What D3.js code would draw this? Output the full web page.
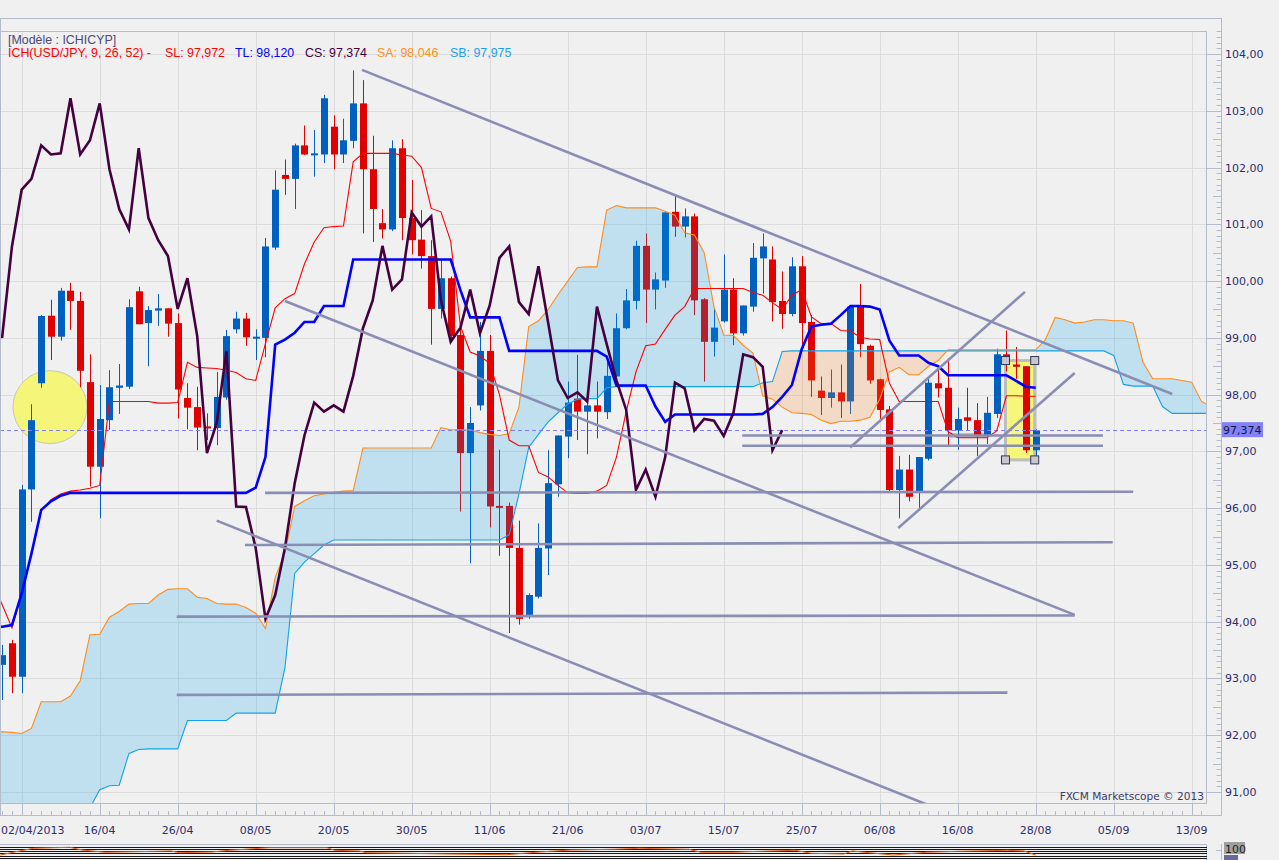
<!DOCTYPE html>
<html><head><meta charset="utf-8">
<script src="https://cdn.jsdelivr.net/npm/d3@7"></script>
<style>
html,body{margin:0;padding:0;background:#f0f0f0;overflow:hidden;}
svg{display:block;}
</style></head><body>
<svg id="chart" width="1279" height="860"></svg>
<script>
// ---------------- DATA ----------------
const tickIdx = [2,10,18,26,34,42,50,58,66,74,82,90,98,106,114,122];
const tickLabels = ["02/04/2013","16/04","26/04","08/05","20/05","30/05","11/06","21/06","03/07","15/07","25/07","06/08","16/08","28/08","05/09","13/09"];
const priceTicks = [91,92,93,94,95,96,97,98,99,100,101,102,103,104];
const priceLabels = ["91,00","92,00","93,00","94,00","95,00","96,00","97,00","98,00","99,00","100,00","101,00","102,00","103,00","104,00"];

const openP = [93.24,93.62,93.03,96.33,98.20,99.39,99.02,99.83,99.65,98.22,
 96.73,97.55,98.12,98.14,99.82,99.26,99.48,99.52,99.26,97.94,
 97.78,97.44,97.41,97.95,99.15,99.34,99.00,99.00,100.59,101.87,
 101.80,102.39,102.23,102.23,102.72,102.23,102.47,103.13,101.97,101.02,
 100.91,102.34,101.11,100.73,100.44,99.51,100.05,99.05,96.97,97.81,
 98.77,96.04,96.04,95.30,94.12,94.44,95.29,96.42,97.26,97.93,
 97.70,97.81,97.69,98.32,99.17,99.65,100.62,99.85,100.01,101.22,
 100.96,101.14,99.68,98.93,99.29,99.85,99.08,99.55,100.40,100.38,
 99.65,99.42,100.26,99.28,98.07,97.94,98.04,97.88,99.55,98.86,
 98.27,97.74,96.32,96.68,96.28,96.87,98.20,98.12,97.37,97.60,
 97.55,97.27,97.66,98.71,98.53,98.50,97.02];
const highP = [93.59,93.68,96.41,97.83,99.40,99.67,99.88,99.97,99.81,98.71,
 98.17,98.43,98.54,99.68,99.90,99.56,99.77,99.52,99.43,98.20,
 98.14,97.67,98.40,99.14,99.46,99.44,99.15,100.76,101.95,102.14,
 102.42,102.74,102.66,103.28,102.92,102.86,103.71,103.54,102.56,101.27,
 102.48,102.50,101.78,101.25,100.72,100.38,100.08,99.22,97.78,99.28,
 99.05,97.03,96.10,95.78,94.50,95.73,97.02,97.28,98.23,98.70,
 97.85,98.23,98.58,99.43,99.86,100.71,100.84,100.15,101.21,101.52,
 101.28,101.19,99.70,99.52,100.47,100.05,99.57,100.67,100.84,100.61,
 100.17,100.42,100.44,99.40,98.32,98.44,98.53,99.56,99.95,98.88,
 98.28,97.80,96.92,96.94,96.90,98.30,98.44,98.64,97.77,98.12,
 97.85,97.96,98.81,99.13,98.84,98.50,97.39];
const lowP = [92.62,92.74,92.74,95.76,98.12,98.61,98.95,99.14,98.13,96.38,
 95.82,97.38,97.66,98.10,99.24,98.50,99.21,99.02,97.58,97.39,
 97.02,97.20,97.11,97.91,99.08,98.86,98.61,98.66,100.55,101.52,
 101.27,102.22,101.84,102.08,101.97,102.08,102.34,100.84,100.69,100.75,
 100.88,100.72,100.47,100.22,98.88,99.34,98.97,95.94,95.03,97.72,
 95.66,95.16,93.80,93.95,94.05,94.41,94.82,96.20,96.88,97.20,
 96.95,97.23,97.57,98.30,99.15,99.50,99.26,99.50,99.88,100.78,
 100.77,99.40,98.23,98.67,99.27,98.87,99.04,99.46,99.78,99.29,
 99.16,99.38,98.88,97.96,97.64,97.77,97.59,97.66,98.66,98.19,
 97.53,96.30,95.82,96.12,95.95,96.84,97.95,97.09,97.03,97.36,
 96.92,97.13,97.59,98.41,98.28,96.97,96.83];
const closeP = [93.41,93.03,96.33,97.55,99.385,99.02,99.83,99.65,98.42,96.73,
 97.57,98.13,98.16,99.54,99.24,99.49,99.52,99.25,98.09,97.77,
 97.42,97.41,97.96,99.03,99.34,99.01,99.02,100.61,101.61,101.80,
 102.39,102.23,102.25,103.22,102.23,102.48,103.13,101.97,101.27,100.91,
 102.34,101.11,100.72,100.44,99.51,100.05,99.03,96.97,97.50,98.77,
 96.03,96.02,95.30,94.05,94.47,95.30,96.44,97.28,97.86,97.70,
 97.81,97.70,98.33,99.17,99.66,100.62,99.85,100.03,101.21,100.96,
 101.14,99.66,98.93,99.18,99.85,99.08,99.57,100.41,100.61,99.63,
 99.42,100.26,99.26,98.25,97.94,98.04,97.88,99.55,98.89,98.25,
 97.73,96.32,96.68,96.20,96.90,98.21,98.11,97.37,97.57,97.54,
 97.27,97.68,98.71,98.66,98.49,97.02,97.374];

// Ichimoku lines (first value at bar index -1)
const lineStart = -1;
const tenkan = [94.7,94.3,93.89,94.5,95.2,95.95,96.15,96.25,96.3,96.32,
 96.35,96.4,97.88,97.88,97.88,97.88,97.88,97.85,97.85,97.86,
 98.57,98.48,98.47,98.46,98.43,98.39,98.28,98.25,98.9,99.53,
 99.69,99.78,100.3,100.69,100.94,100.96,100.97,102.1,102.25,102.25,
 102.25,102.25,102.22,102.2,102.0,101.28,101.22,100.7,99.2,98.75,
 98.68,98.55,98.0,97.2,97.1,97.1,96.63,96.55,96.4,96.27,
 96.26,96.26,96.3,96.4,96.9,97.7,98.4,98.86,98.89,99.15,
 99.4,99.55,99.87,99.87,99.87,99.87,99.87,99.87,99.8,99.75,
 99.62,99.5,99.75,99.85,99.37,99.25,99.25,99.13,99.12,99.01,
 98.98,98.97,98.2,97.88,97.88,97.88,97.88,97.88,97.35,97.24,
 97.24,97.24,97.24,97.36,97.98,97.98,97.97,97.97];
const kijun = [93.91,93.91,93.94,94.5,95.2,95.97,96.12,96.22,96.27,96.27,
 96.27,96.27,96.27,96.27,96.27,96.27,96.27,96.27,96.27,96.27,
 96.27,96.27,96.27,96.27,96.27,96.27,96.27,96.36,96.9,98.88,
 98.97,99.09,99.28,99.28,99.56,99.56,99.56,100.38,100.38,100.38,
 100.38,100.38,100.38,100.38,100.38,100.38,100.38,100.38,99.84,99.36,
 99.36,99.36,99.36,98.77,98.77,98.77,98.77,98.77,98.77,98.77,
 98.77,98.77,98.77,98.67,98.16,98.16,98.16,98.16,97.79,97.52,
 97.65,97.65,97.65,97.65,97.65,97.65,97.65,97.65,97.65,97.66,
 97.78,97.96,98.17,98.8,99.2,99.23,99.25,99.4,99.56,99.56,
 99.55,99.5,98.95,98.69,98.69,98.69,98.56,98.5,98.34,98.34,
 98.34,98.34,98.34,98.34,98.34,98.24,98.14,98.12];
const senkouA = [92.06,92.06,92.05,92.03,92.12,92.59,92.59,92.59,92.69,92.96,
 93.77,93.78,94.08,94.18,94.31,94.32,94.32,94.47,94.57,94.58,
 94.58,94.43,94.41,94.32,94.31,94.31,94.25,94.15,93.88,94.78,
 95.22,96.03,96.13,96.22,96.25,96.28,96.30,96.31,97.06,97.06,
 97.06,97.06,97.06,97.06,97.06,97.06,97.42,97.38,97.38,97.38,
 97.33,97.30,97.28,97.31,97.78,99.2,99.3,99.5,99.76,100.0,
 100.24,100.25,100.25,101.25,101.33,101.29,101.29,101.29,101.29,101.23,
 101.16,100.85,100.81,100.5,99.55,99.05,99.04,98.87,98.73,97.98,
 97.92,97.78,97.68,97.67,97.65,97.55,97.49,97.53,97.53,97.55,
 97.6,97.92,98.4,98.48,98.35,98.35,98.5,98.6,98.79,98.79,
 98.79,98.79,98.79,98.79,98.79,98.79,98.79,98.79,98.97,99.36,
 99.32,99.26,99.28,99.32,99.32,99.30,99.30,99.26,98.57,98.28,
 98.28,98.28,98.25,98.22,97.88,97.79];
const senkouB = [90.0,90.0,90.0,90.0,90.0,90.0,90.0,90.0,90.0,90.3,
 90.72,91.04,91.11,91.12,91.68,91.75,91.76,91.76,91.76,91.76,
 92.26,92.26,92.26,92.26,92.26,92.39,92.39,92.39,92.39,92.39,
 93.19,94.85,95.05,95.2,95.35,95.44,95.44,95.44,95.44,95.44,
 95.44,95.44,95.44,95.44,95.44,95.44,95.44,95.44,95.44,95.44,
 95.44,95.44,95.44,95.53,96.25,97.07,97.3,97.52,97.68,97.83,
 97.92,97.93,97.93,98.12,98.14,98.14,98.14,98.14,98.14,98.14,
 98.14,98.14,98.14,98.14,98.14,98.14,98.14,98.14,98.14,98.21,
 98.23,98.76,98.77,98.77,98.77,98.77,98.77,98.77,98.77,98.77,
 98.77,98.77,98.77,98.77,98.77,98.77,98.77,98.77,98.77,98.77,
 98.77,98.77,98.77,98.77,98.77,98.77,98.77,98.77,98.77,98.77,
 98.77,98.77,98.77,98.77,98.77,98.69,98.18,98.15,98.15,98.15,
 97.79,97.67,97.67,97.67,97.67,97.67];
const chikouShift = 26;
const lastPrice = 97.374;

// drawn objects, in (bar index, price)
const trendLines = [
 [36.9,103.72,120.0,98.01],
 [29.0,99.65,110.0,94.12],
 [22.0,95.78,96.0,90.70],
 [86.96,97.07,104.9,99.81],
 [91.9,95.65,110.0,98.38],
 [75.9,97.28,112.9,97.28],
 [75.9,97.10,112.9,97.10],
 [26.96,96.27,116.0,96.29],
 [24.9,95.35,113.9,95.40],
 [17.9,94.09,110.0,94.11],
 [17.9,92.71,103.1,92.75]
];
const circleMark = [4.9, 97.78];
const boxMark = [102.9, 98.60, 105.9, 96.85];
const smallBox = [97.2, 97.31, 100.8, 97.25];

// lower oscillator panel (values read approx.)
const oscIdx = [-0.2,1.4,3.2,6.9,8.2,10.6,17.3,18.2,21.5,23.3,27.4,33.3,34.1,36.6,37.4,41.6,45.8,51.7,55.5,58.3,62.5,65.4,70.4,71.7,75.1,76.3,81.3,83.0,86.3,87.2,88.9,91.4,94.8,98.0,103.1,104.8,106];
const oscVal = [73.5,83.2,93.2,96.2,88.2,81.5,85.3,80.3,82.4,87.4,95,95,87.4,85.3,80.3,78.5,76.5,74.4,83.2,88.2,90.3,93.2,90.3,81.5,81.5,83.2,87.4,78.5,76.5,85.3,80.3,73.5,81.5,84.4,87.4,85.3,73.5];
const oscLevels = [98,92,86,78.5,70.6,64.7];

// ---------------- DRAW ----------------
const W = 1279, H = 860;
const PL = 0, PR = 1207, PT = 31, PB = 803;
const AX = 1221.5;
const svg = d3.select("#chart");
const x = d3.scaleLinear().domain([0,122]).range([2.2,1191.7]);
const y = d3.scaleLinear().domain([91,104]).range([792,54]);
const yo = d3.scaleLinear().domain([0,100]).range([880,846]);
const C_AXIS = "#b4bccb", C_TXT = "#2e2e6e";

svg.append("rect").attr("width",W).attr("height",H).attr("fill","#f0f0f0");
const defs = svg.append("defs");
defs.append("clipPath").attr("id","plotClip").append("rect")
  .attr("x",PL).attr("y",PT).attr("width",PR-PL).attr("height",PB-PT);
defs.append("clipPath").attr("id","oscClip").append("rect")
  .attr("x",0).attr("y",845).attr("width",PR).attr("height",15);

const plot = svg.append("g").attr("clip-path","url(#plotClip)");

// grid
plot.selectAll("line.hg").data(priceTicks).join("line")
  .attr("x1",PL).attr("x2",PR)
  .attr("y1",d=>Math.round(y(d))+0.5).attr("y2",d=>Math.round(y(d))+0.5)
  .attr("stroke","#dcdcdc").attr("stroke-width",1);
plot.selectAll("line.vg").data(tickIdx).join("line")
  .attr("x1",d=>Math.round(x(d))+0.5).attr("x2",d=>Math.round(x(d))+0.5)
  .attr("y1",PT).attr("y2",PB)
  .attr("stroke","#dcdcdc").attr("stroke-width",1);

// highlight circle & boxes (under candles)
plot.append("ellipse").attr("cx",x(circleMark[0])).attr("cy",y(circleMark[1]))
  .attr("rx",37).attr("ry",36.5).attr("fill","#f5f57a").attr("stroke","#c8c8b4").attr("stroke-width",1);
plot.append("rect").attr("x",x(boxMark[0])).attr("y",y(boxMark[1]))
  .attr("width",x(boxMark[2])-x(boxMark[0])).attr("height",y(boxMark[3])-y(boxMark[1]))
  .attr("fill","#f6f67a").attr("stroke","#bdbdbd").attr("stroke-width",3);
plot.append("rect").attr("x",x(smallBox[0])).attr("y",y(smallBox[1]))
  .attr("width",x(smallBox[2])-x(smallBox[0])).attr("height",y(smallBox[3])-y(smallBox[1]))
  .attr("fill","#f6f67a").attr("stroke","#bdbdbd").attr("stroke-width",1.5);

// candles
const BLUE = "#0060c0", RED = "#e00000";
const candles = openP.map((o,i)=>({i,o,h:highP[i],l:lowP[i],c:closeP[i]}));
const cg = plot.append("g");
candles.forEach(d=>{
  const cx = Math.round(x(d.i));
  const col = d.c >= d.o ? BLUE : RED;
  cg.append("line").attr("x1",cx+0.5).attr("x2",cx+0.5)
    .attr("y1",y(d.h)).attr("y2",y(d.l)).attr("stroke",col).attr("stroke-width",1);
  const top = y(Math.max(d.o,d.c)), bot = y(Math.min(d.o,d.c));
  cg.append("rect").attr("x",cx-3).attr("width",7)
    .attr("y",top).attr("height",Math.max(bot-top,2)).attr("fill",col);
});

// cloud
const cloud = senkouA.map((a,k)=>({i:lineStart+k,a,b:senkouB[k]}));
defs.append("clipPath").attr("id","belowA").append("path")
  .attr("d",d3.area().x(d=>x(d.i)).y0(d=>y(d.a)).y1(PB+50)(cloud));
defs.append("clipPath").attr("id","belowB").append("path")
  .attr("d",d3.area().x(d=>x(d.i)).y0(d=>y(d.b)).y1(PB+50)(cloud));
plot.append("g").attr("clip-path","url(#belowA)").append("path")
  .attr("d",d3.area().x(d=>x(d.i)).y0(d=>y(d.b)).y1(PT-50)(cloud))
  .attr("fill","rgb(0,160,240)").attr("fill-opacity",0.2);
plot.append("g").attr("clip-path","url(#belowB)").append("path")
  .attr("d",d3.area().x(d=>x(d.i)).y0(d=>y(d.a)).y1(PT-50)(cloud))
  .attr("fill","rgb(250,130,30)").attr("fill-opacity",0.2);

const ln = d3.line().x(d=>x(d.i)).y(d=>y(d.v));
const ser = arr => arr.map((v,k)=>({i:lineStart+k,v}));
plot.append("path").attr("d",ln(ser(senkouB))).attr("fill","none").attr("stroke","#12a2e8").attr("stroke-width",1.1);
plot.append("path").attr("d",ln(ser(senkouA))).attr("fill","none").attr("stroke","#ff8c1c").attr("stroke-width",1.1);

// current price dashed line
plot.append("line").attr("x1",PL).attr("x2",PR)
  .attr("y1",Math.round(y(lastPrice))+0.5).attr("y2",Math.round(y(lastPrice))+0.5)
  .attr("stroke","#8080ff").attr("stroke-width",1).attr("stroke-dasharray","4,3");

plot.append("path").attr("d",ln(ser(tenkan))).attr("fill","none").attr("stroke","#ff0000").attr("stroke-width",1.1);
plot.append("path").attr("d",ln(ser(kijun))).attr("fill","none").attr("stroke","#0000ff").attr("stroke-width",2.6);
const chikou = d3.range(-1, closeP.length - chikouShift).map(i=>({i, v: closeP[i+chikouShift]}));
plot.append("path").attr("d",ln(chikou)).attr("fill","none").attr("stroke","#44003f").attr("stroke-width",2.6);

// trend lines
plot.selectAll("line.tl").data(trendLines).join("line")
  .attr("x1",d=>x(d[0])).attr("y1",d=>y(d[1])).attr("x2",d=>x(d[2])).attr("y2",d=>y(d[3]))
  .attr("stroke","#8a8db4").attr("stroke-width",2.6);

// handles of selected box
[[boxMark[0],boxMark[1]],[boxMark[2],boxMark[1]],[boxMark[0],boxMark[3]],[boxMark[2],boxMark[3]]].forEach(p=>{
  plot.append("rect").attr("x",x(p[0])-4).attr("y",y(p[1])-4).attr("width",8).attr("height",8)
   .attr("fill","#c8c8cc").attr("stroke","#33335a").attr("stroke-width",1);
});

// watermark
svg.append("text").attr("x",PR-3).attr("y",PB-3).attr("text-anchor","end")
  .attr("font-family","DejaVu Sans").attr("font-size",10.6).attr("fill","#3a3a6a")
  .text("FXCM Marketscope \u00a9 2013");

// legend
const lg = svg.append("g").attr("font-family","Liberation Sans, Arial").attr("font-size",12.4);
lg.append("text").attr("x",8).attr("y",44).attr("fill","#4a4a78").text("[Modèle : ICHICYP]");
const legendItems = [
  ["ICH(USD/JPY, 9, 26, 52) -", 8, "#ff0000"],
  ["SL: 97,972", 165, "#ff0000"],
  ["TL: 98,120", 235, "#0000ff"],
  ["CS: 97,374", 305, "#44003f"],
  ["SA: 98,046", 377, "#ff9020"],
  ["SB: 97,975", 450, "#20a0f0"]
];
legendItems.forEach(t=> lg.append("text").attr("x",t[1]).attr("y",57).attr("fill",t[2]).text(t[0]));

// frame
const fr = svg.append("g").attr("stroke",C_AXIS).attr("stroke-width",1);
fr.append("line").attr("x1",0).attr("x2",AX).attr("y1",18.5).attr("y2",18.5);
fr.append("line").attr("x1",0).attr("x2",PR).attr("y1",PT+0.5).attr("y2",PT+0.5);
fr.append("line").attr("x1",0.5).attr("x2",0.5).attr("y1",18).attr("y2",815);
fr.append("line").attr("x1",PR-0.5).attr("x2",PR-0.5).attr("y1",PT).attr("y2",PB);
fr.append("line").attr("x1",0).attr("x2",PR).attr("y1",PB+0.5).attr("y2",PB+0.5);
fr.append("line").attr("x1",AX).attr("x2",AX).attr("y1",18).attr("y2",815.5);
fr.append("line").attr("x1",0).attr("x2",AX).attr("y1",815.5).attr("y2",815.5);

// right axis ticks
const minorP = d3.range(910, 1045).map(v=>v/10);
svg.append("g").selectAll("line").data(minorP).join("line")
  .attr("x1",d=> Math.abs(d-Math.round(d))<1e-6 ? PR : (Math.abs(d*2-Math.round(d*2))<1e-6 ? 1213 : 1216.5))
  .attr("x2",AX).attr("y1",d=>Math.round(y(d))+0.5).attr("y2",d=>Math.round(y(d))+0.5)
  .attr("stroke",C_AXIS).attr("stroke-width",1);
svg.append("g").selectAll("text").data(priceTicks).join("text")
  .attr("x",1225).attr("y",d=>y(d)+4)
  .attr("font-family","DejaVu Sans").attr("font-size",11).attr("fill",C_TXT)
  .text((d,k)=>priceLabels[k]);

// price tag
svg.append("rect").attr("x",AX+0.5).attr("y",y(lastPrice)-8).attr("width",41).attr("height",15).attr("fill","#8282f5");
svg.append("text").attr("x",AX+1.5).attr("y",y(lastPrice)+4)
  .attr("font-family","DejaVu Sans").attr("font-size",11).attr("fill","#14144a")
  .text(String(lastPrice).replace(".",","));

// bottom axis
const barIdx = d3.range(-1, 125);
svg.append("g").selectAll("line").data(barIdx).join("line")
  .attr("x1",d=>Math.round(x(d))+0.5).attr("x2",d=>Math.round(x(d))+0.5)
  .attr("y1",d=> tickIdx.includes(d) ? PB : 811).attr("y2",815)
  .attr("stroke",C_AXIS).attr("stroke-width",1)
  .filter(d=>x(d)<0 || x(d)>PR).remove();
svg.append("g").selectAll("text").data(tickIdx).join("text")
  .attr("x",(d,k)=> k===0 ? 1 : x(d))
  .attr("text-anchor",(d,k)=> k===0 ? "start" : "middle")
  .attr("y",834)
  .attr("font-family","DejaVu Sans").attr("font-size",11).attr("fill",C_TXT)
  .text((d,k)=>tickLabels[k]);

// oscillator sub-panel
const osc = svg.append("g");
osc.append("line").attr("x1",0).attr("x2",PR).attr("y1",844.5).attr("y2",844.5).attr("stroke",C_AXIS);
osc.append("line").attr("x1",PR-0.5).attr("x2",PR-0.5).attr("y1",844).attr("y2",860).attr("stroke",C_AXIS);
osc.append("line").attr("x1",AX).attr("x2",AX).attr("y1",844).attr("y2",860).attr("stroke",C_AXIS);
osc.append("line").attr("x1",1216).attr("x2",AX).attr("y1",850.5).attr("y2",850.5).attr("stroke",C_AXIS);
const og = osc.append("g").attr("clip-path","url(#oscClip)");
og.selectAll("line").data(oscLevels).join("line")
  .attr("x1",0).attr("x2",PR).attr("y1",d=>Math.round(yo(d))+0.5).attr("y2",d=>Math.round(yo(d))+0.5)
  .attr("stroke","#1a1a1a").attr("stroke-width",1);
og.append("path").attr("d",d3.line().x((d,k)=>x(oscIdx[k])).y(d=>yo(d))(oscVal))
  .attr("fill","none").attr("stroke","#e06010").attr("stroke-width",1);
osc.append("rect").attr("x",1224).attr("y",842).attr("width",21).attr("height",12).attr("fill","#a0a0a0");
osc.append("text").attr("x",1225).attr("y",852.5).attr("font-family","DejaVu Sans").attr("font-size",11).attr("fill","#202020").text("100");
osc.append("rect").attr("x",1224).attr("y",855).attr("width",14).attr("height",5).attr("fill","#6a6a9a");
</script></body></html>
